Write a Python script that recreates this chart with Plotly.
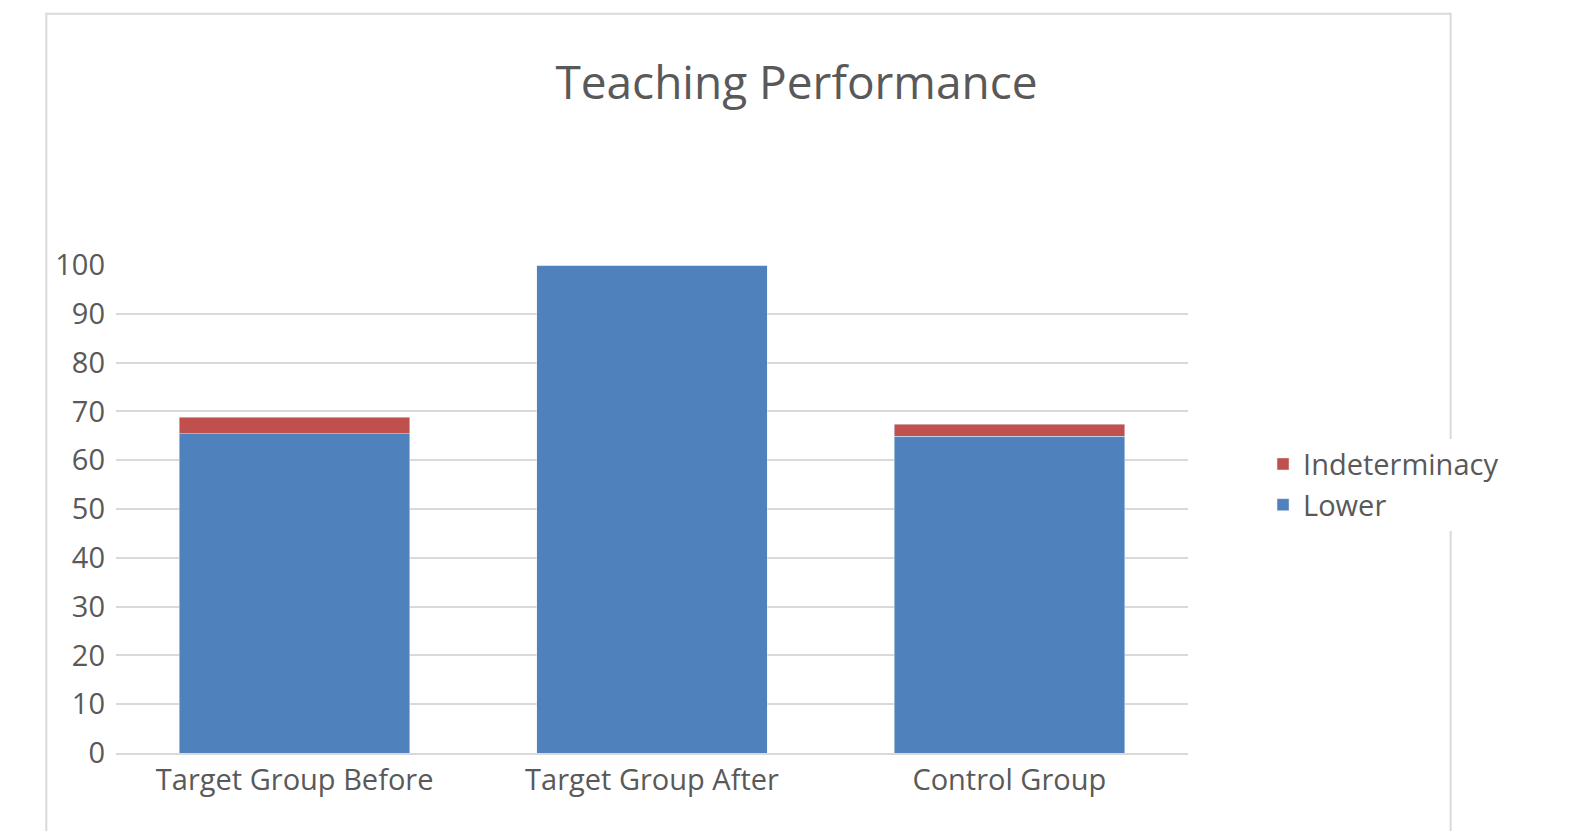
import plotly.graph_objects as go

categories = ["Target Group Before", "Target Group After", "Control Group"]
lower = [65.4, 100, 64.9]
indeterminacy = [3.4, 0, 2.5]
ticks = list(range(0, 101, 10))

fig = go.Figure()
fig.add_bar(x=categories, y=lower, name="Lower", marker_color="#4f81bd")
fig.add_bar(x=categories, y=indeterminacy, name="Indeterminacy", marker_color="#c0504d")
fig.update_layout(
    barmode="stack", bargap=0.355,
    width=1577, height=831,
    paper_bgcolor="white", plot_bgcolor="white",
    font=dict(family="Open Sans", color="#595959", size=29),
    title=dict(text="Teaching Performance", x=0.5, xanchor="center", y=0.91, yanchor="middle",
               font=dict(size=46, color="#595959")),
    margin=dict(l=108, r=397, t=257, b=86),
    legend=dict(x=1.07, y=0.55, xanchor="left", yanchor="middle", traceorder="reversed",
                font=dict(size=29), itemwidth=30, tracegroupgap=10),
    showlegend=True,
    xaxis=dict(showline=True, linecolor="#d9d9d9", linewidth=2, ticks="", tickfont=dict(size=29)),
    yaxis=dict(range=[0, 100], tickvals=ticks, showgrid=True, gridcolor="#d9d9d9", gridwidth=2,
               zeroline=False, ticks="", tickfont=dict(size=29), ticklabelstandoff=10),
    shapes=[dict(type="rect", xref="paper", yref="paper", x0=-0.065, x1=1.245, y0=-0.17, y1=1.515,
                 line=dict(color="#d9d9d9", width=2))],
)
fig.write_html("out.html")
